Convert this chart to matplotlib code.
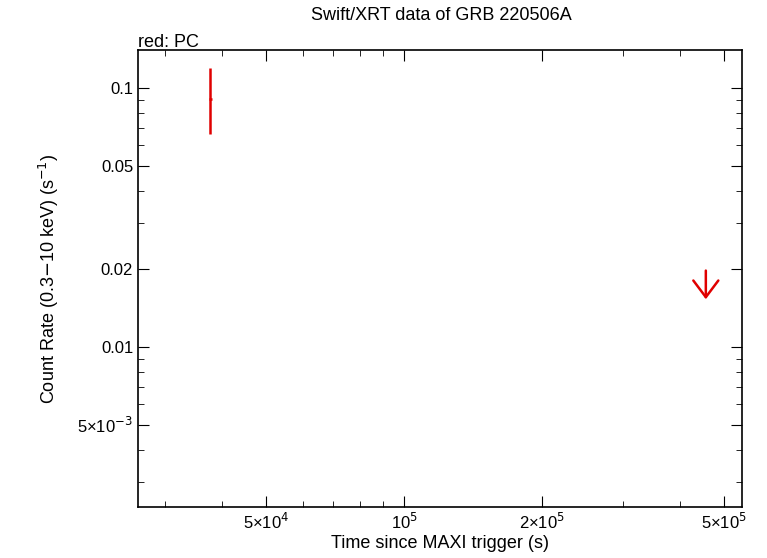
import matplotlib
matplotlib.use("Agg")
import matplotlib.pyplot as plt
from matplotlib.ticker import FixedLocator, FixedFormatter, NullFormatter

plt.rcParams["font.family"] = "Liberation Sans"

# PC detection
pc_t = [3.77e4]
pc_terr = [300.0]
pc_rate = [0.0907]
pc_lo = [0.0665]
pc_hi = [0.119]

# PC upper limit
ul_t = [4.56e5]
ul_rate = [0.0202]
ul_tip = [0.0149]

xticks = [5e4, 1e5, 2e5, 5e5]
xlabels = ["5×10$^4$", "10$^5$", "2×10$^5$", "5×10$^5$"]
yticks = [5e-3, 0.01, 0.02, 0.05, 0.1]
ylabels = ["5×10$^{-3}$", "0.01", "0.02", "0.05", "0.1"]

fig = plt.figure(figsize=(7.67, 5.58), dpi=100)
ax = fig.add_axes([138/767, 1-507/558, (742-138)/767, (507-50)/558])
ax.set_xscale("log")
ax.set_yscale("log")
ax.set_xlim(2.62e4, 5.47e5)
ax.set_ylim(0.00241, 0.14)

yerr = [[r - l for r, l in zip(pc_rate, pc_lo)], [h - r for r, h in zip(pc_rate, pc_hi)]]
ax.errorbar(pc_t, pc_rate, xerr=pc_terr, yerr=yerr, fmt="none", ecolor="#e00000", elinewidth=1.8, capsize=0)
for t, r, tip in zip(ul_t, ul_rate, ul_tip):
    ax.annotate("", xy=(t, tip), xytext=(t, r),
                arrowprops=dict(arrowstyle="->,head_length=0.6,head_width=0.45",
                                color="#e00000", lw=1.8, mutation_scale=20))

ax.xaxis.set_major_locator(FixedLocator(xticks))
ax.xaxis.set_major_formatter(FixedFormatter(xlabels))
ax.xaxis.set_minor_formatter(NullFormatter())
ax.yaxis.set_major_locator(FixedLocator(yticks))
ax.yaxis.set_major_formatter(FixedFormatter(ylabels))
ax.yaxis.set_minor_formatter(NullFormatter())
ax.tick_params(which="both", direction="in", top=True, right=True, labelsize=12)
ax.tick_params(which="major", length=8)
ax.tick_params(which="minor", length=4)
for s in ax.spines.values():
    s.set_linewidth(1.2)

ax.set_xlabel("Time since MAXI trigger (s)", fontsize=13, labelpad=2)
ax.set_ylabel("Count Rate (0.3$-$10 keV) (s$^{-1}$)", fontsize=13, labelpad=12)
fig.text(0.575, 0.965, "Swift/XRT data of GRB 220506A", ha="center", fontsize=13)
fig.text(138/767, 0.915, "red: PC", ha="left", fontsize=13)

fig.savefig("out.png", dpi=100)
